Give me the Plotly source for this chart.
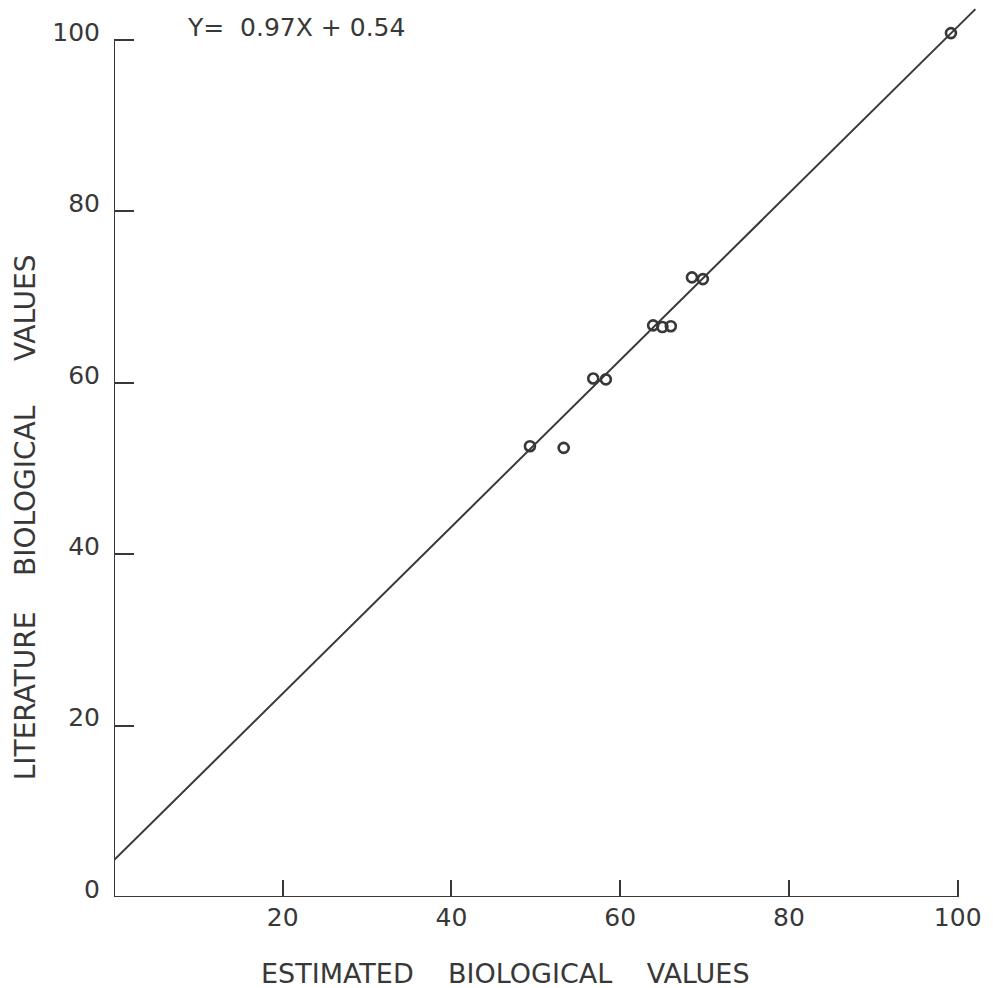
import plotly.graph_objects as go

# Data
est_values = [49.3, 53.3, 56.8, 58.3, 63.9, 65.0, 66.0, 68.5, 69.8, 99.2]
lit_values = [52.6, 52.4, 60.5, 60.4, 66.7, 66.5, 66.6, 72.3, 72.1, 100.8]
fit_x = [-0.2, 102.1]
fit_y = [4.1, 103.6]
x_ticks = [20, 40, 60, 80, 100]
x_ticklabels = ["20", "40", "60", "80", "100"]
y_ticks = [0, 20, 40, 60, 80, 100]
y_ticklabels = ["0", "20", "40", "60", "80", "100"]
equation = "Y=\u00a0 0.97X + 0.54"
x_title = "ESTIMATED\u00a0\u00a0\u00a0\u00a0BIOLOGICAL\u00a0\u00a0\u00a0\u00a0VALUES"
y_title = "LITERATURE\u00a0\u00a0\u00a0\u00a0BIOLOGICAL\u00a0\u00a0\u00a0\u00a0\u00a0VALUES"

INK = "#383838"
FONT = "DejaVu Sans"

fig = go.Figure()
fig.add_trace(go.Scatter(x=fit_x, y=fit_y, mode="lines",
                         line=dict(color=INK, width=2), hoverinfo="skip"))
fig.add_trace(go.Scatter(x=est_values, y=lit_values, mode="markers",
                         marker=dict(symbol="circle-open", size=10, color=INK,
                                     line=dict(width=2.6, color=INK)),
                         cliponaxis=False))

# axis lines (only from 0 to 100)
fig.add_shape(type="line", xref="x", yref="y", x0=0, x1=100, y0=0, y1=0,
              line=dict(color=INK, width=2))
fig.add_shape(type="line", xref="x", yref="y", x0=0, x1=0, y0=0, y1=100,
              line=dict(color=INK, width=2))

fig.add_annotation(x=8.4, xref="x", y=101.4, yref="y", text=equation,
                   showarrow=False, xanchor="left", yanchor="middle",
                   font=dict(family=FONT, size=25, color=INK))
fig.add_annotation(x=46.4, xref="x", y=0, yref="paper", text=x_title,
                   showarrow=False, xanchor="center", yanchor="middle",
                   yshift=-76,
                   font=dict(family=FONT, size=27, color=INK))
fig.add_annotation(x=0, xref="paper", y=44.3, yref="y", text=y_title,
                   showarrow=False, textangle=-90, xanchor="center",
                   yanchor="middle", xshift=-89,
                   font=dict(family=FONT, size=28, color=INK))

fig.update_layout(
    width=985, height=980,
    margin=dict(l=106, r=10, t=0, b=91),
    paper_bgcolor="white", plot_bgcolor="white",
    showlegend=False,
    font=dict(family=FONT, size=25, color=INK),
    xaxis=dict(range=[0, 103], tickvals=x_ticks, ticktext=x_ticklabels,
               ticks="inside", ticklen=17, tickwidth=2, tickcolor=INK,
               showgrid=False, zeroline=False, showline=False,
               ticklabelstandoff=3,
               tickfont=dict(family=FONT, size=25, color=INK)),
    yaxis=dict(range=[0, 103.73], tickvals=y_ticks, ticktext=y_ticklabels,
               ticks="inside", ticklen=20, tickwidth=2, tickcolor=INK,
               showgrid=False, zeroline=False, showline=False,
               ticklabelstandoff=13, ticklabelshift=-8,
               tickfont=dict(family=FONT, size=25, color=INK)),
)

fig.write_html("out.html")
